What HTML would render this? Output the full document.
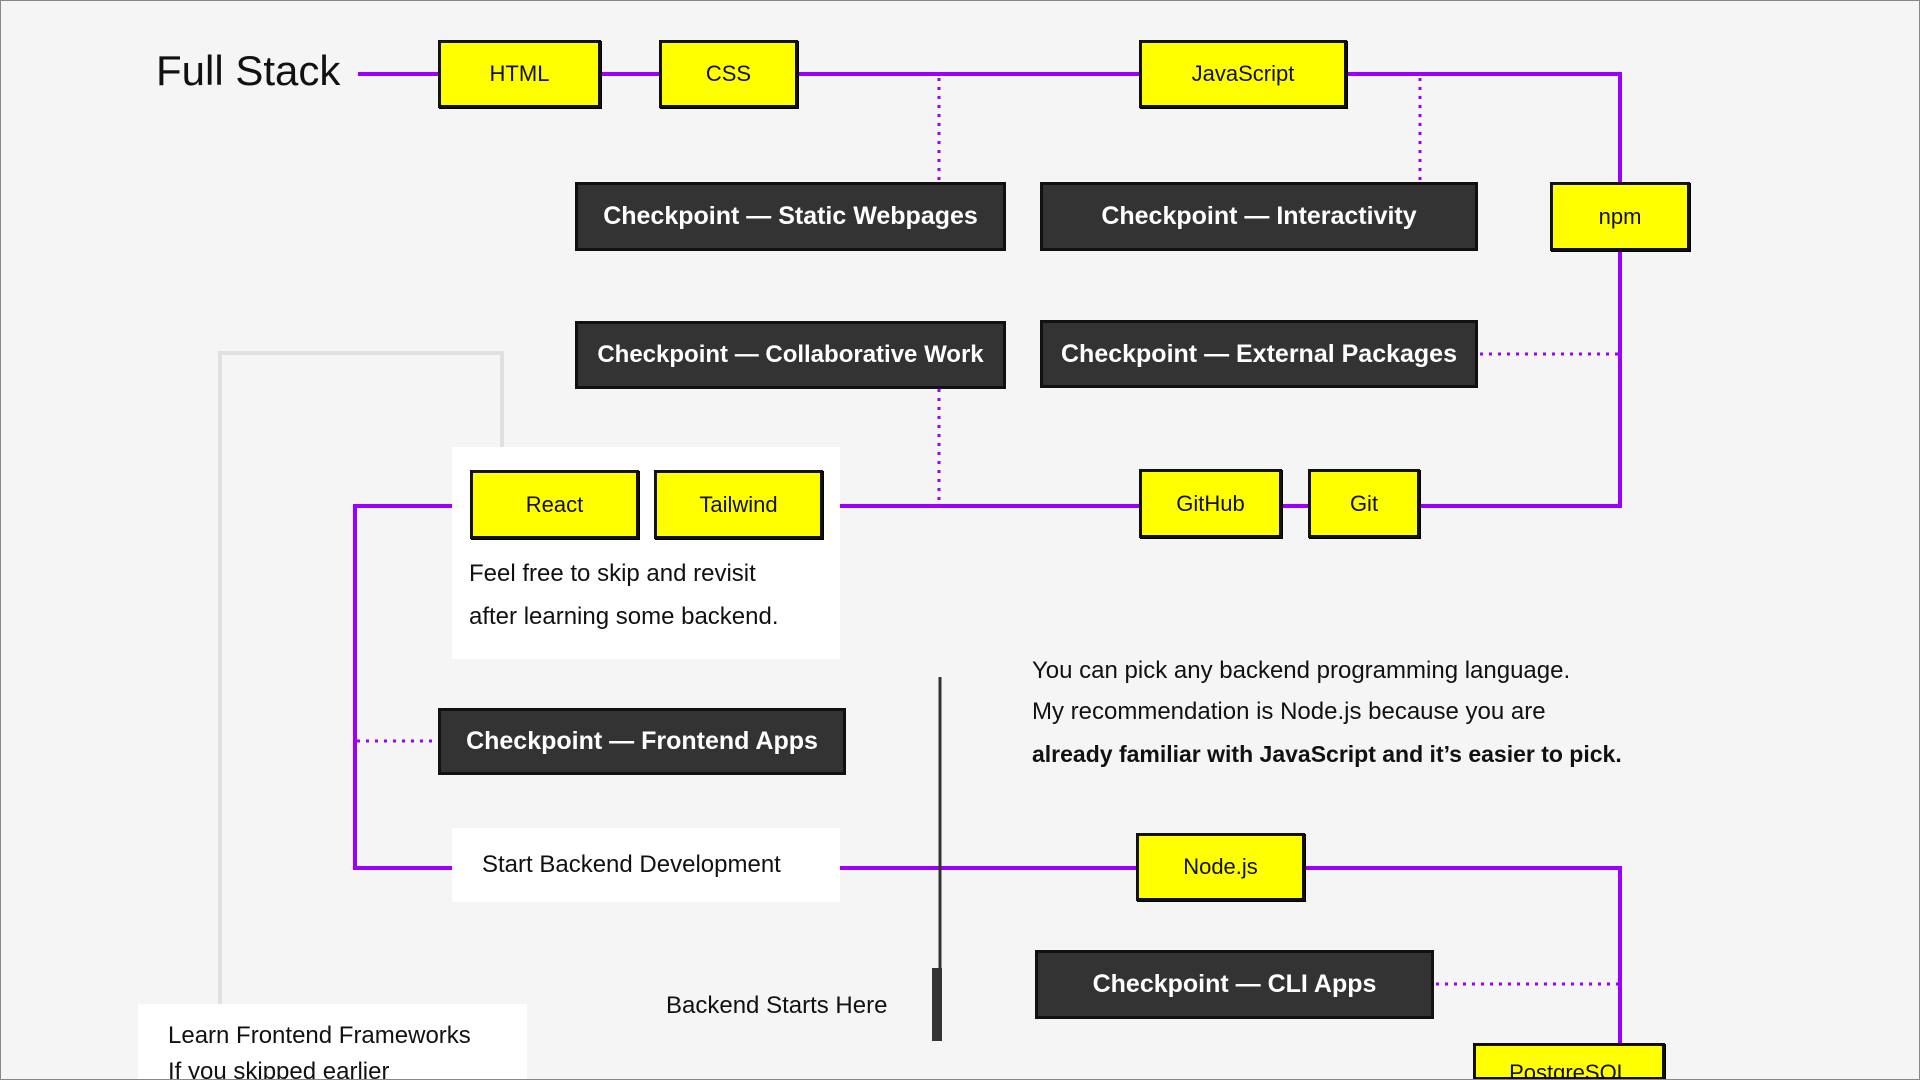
<!DOCTYPE html>
<html style="width:1920px;height:1080px;overflow:hidden;margin:0"><head><meta charset="utf-8"><style>
body{margin:0;width:1920px;height:1080px;background:#f5f5f5;position:relative;overflow:hidden;font-family:"Liberation Sans",sans-serif;}
.frame{position:absolute;left:0;top:0;width:1918px;height:1078px;border:1px solid #888;}
svg{position:absolute;left:0;top:0}
.y{position:absolute;background:#ff0;border:3px solid #111;box-sizing:border-box;display:flex;align-items:center;justify-content:center;font-size:22px;color:#111;box-shadow:1px 1px 0 #000;}
.c{position:absolute;background:#333;border:3px solid #111;box-sizing:border-box;display:flex;align-items:center;justify-content:center;font-size:25px;color:#fff;font-weight:bold;}
.w{position:absolute;background:#fff;}
.t{position:absolute;color:#111;font-size:24px;white-space:nowrap;}
</style></head><body>
<svg width="1920" height="1080">
<g fill="none" stroke="#e0e0e0" stroke-width="4">
<polyline points="220,1004 220,353 502,353 502,447"/>
</g>
<g fill="none" stroke="#9b00ff" stroke-width="4">
<line x1="358" y1="74" x2="440" y2="74"/>
<line x1="600" y1="74" x2="660" y2="74"/>
<polyline points="798,74 1140,74"/>
<polyline points="1346,74 1620,74 1620,182"/>
<polyline points="1620,251 1620,506 1420,506"/>
<line x1="1282" y1="506" x2="1308" y2="506"/>
<line x1="840" y1="506" x2="1140" y2="506"/>
<polyline points="452,506 355,506 355,868 452,868"/>
<line x1="840" y1="868" x2="1136" y2="868"/>
<polyline points="1305,868 1620,868 1620,1043"/>
</g>
<g fill="none" stroke="#9b00ff" stroke-width="3" stroke-dasharray="3,6">
<line x1="939" y1="78" x2="939" y2="182"/>
<line x1="1420" y1="78" x2="1420" y2="182"/>
<line x1="939" y1="389" x2="939" y2="502"/>
<line x1="1480" y1="354" x2="1618" y2="354"/>
<line x1="357" y1="741" x2="438" y2="741"/>
<line x1="1436" y1="984" x2="1618" y2="984"/>
</g>
<line x1="940" y1="677" x2="940" y2="1041" stroke="#333" stroke-width="3"/>
<rect x="932" y="968" width="10" height="73" fill="#333"/>
</svg>
<div class="t" style="left:156px;top:47px;font-size:42px;">Full Stack</div>
<div class="y" style="left:438px;top:40px;width:163px;height:68px">HTML</div>
<div class="y" style="left:659px;top:40px;width:139px;height:68px">CSS</div>
<div class="y" style="left:1139px;top:40px;width:208px;height:68px">JavaScript</div>
<div class="y" style="left:1550px;top:182px;width:140px;height:69px">npm</div>
<div class="c" style="left:575px;top:182px;width:431px;height:69px">Checkpoint — Static Webpages</div>
<div class="c" style="left:1040px;top:182px;width:438px;height:69px">Checkpoint — Interactivity</div>
<div class="c" style="left:575px;top:321px;width:431px;height:68px;font-size:24px">Checkpoint — Collaborative Work</div>
<div class="c" style="left:1040px;top:320px;width:438px;height:68px">Checkpoint — External Packages</div>
<div class="w" style="left:452px;top:447px;width:388px;height:212px"></div>
<div class="y" style="left:470px;top:470px;width:169px;height:69px">React</div>
<div class="y" style="left:654px;top:470px;width:169px;height:69px">Tailwind</div>
<div class="t" style="left:469px;top:560px;">Feel free to skip and revisit</div>
<div class="t" style="left:469px;top:603px;">after learning some backend.</div>
<div class="y" style="left:1139px;top:469px;width:143px;height:69px">GitHub</div>
<div class="y" style="left:1308px;top:469px;width:112px;height:69px">Git</div>
<div class="c" style="left:438px;top:708px;width:408px;height:67px">Checkpoint — Frontend Apps</div>
<div class="t" style="left:1032px;top:657px;">You can pick any backend programming language.</div>
<div class="t" style="left:1032px;top:698px;">My recommendation is Node.js because you are</div>
<div class="t" style="left:1032px;top:741px;font-weight:bold;font-size:23px;">already familiar with JavaScript and it’s easier to pick.</div>
<div class="w" style="left:452px;top:828px;width:388px;height:74px"></div>
<div class="t" style="left:482px;top:851px;">Start Backend Development</div>
<div class="y" style="left:1136px;top:833px;width:169px;height:68px">Node.js</div>
<div class="c" style="left:1035px;top:950px;width:399px;height:69px">Checkpoint — CLI Apps</div>
<div class="y" style="left:1473px;top:1043px;width:192px;height:37px;align-items:flex-start;padding-top:14px;overflow:hidden">PostgreSQL</div>
<div class="t" style="left:666px;top:992px;">Backend Starts Here</div>
<div class="w" style="left:138px;top:1004px;width:389px;height:76px;overflow:hidden"></div>
<div class="t" style="left:168px;top:1022px;">Learn Frontend Frameworks</div>
<div class="t" style="left:168px;top:1058px;height:22px;overflow:hidden">If you skipped earlier</div>
<div class="frame"></div>
</body></html>
